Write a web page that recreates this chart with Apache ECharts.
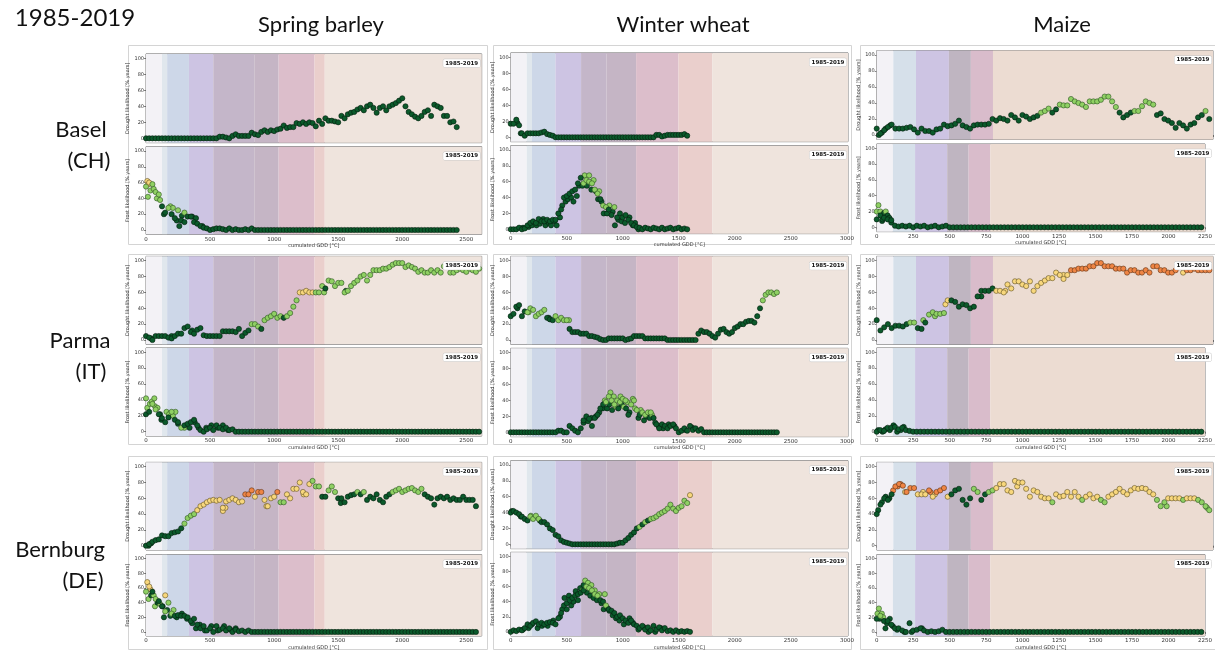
<!DOCTYPE html>
<html><head><meta charset="utf-8">
<script src="https://cdn.jsdelivr.net/npm/echarts@6/dist/echarts.min.js"></script>
<style>html,body{margin:0;padding:0;background:#fff}#c{width:1215px;height:651px}</style>
</head><body><div id="c"></div>
<script>
// ---------------- data ----------------
const STEP = 25; // GDD step between successive values in each series
const periodLabel = '1985-2019';
const cropNames = ['Spring barley', 'Winter wheat', 'Maize'];
const siteNames = ['Basel', 'Parma', 'Bernburg'];
const siteCodes = ['(CH)', '(IT)', '(DE)'];
const droughtName = 'Drought likelihood [% years]';
const frostName = 'Frost likelihood [% years]';
const xName = 'cumulated GDD [°C]';
const yTickValues = [0, 20, 40, 60, 80, 100];
const barleyXTicks = [0, 500, 1000, 1500, 2000, 2500];
const wheatXTicks = [0, 500, 1000, 1500, 2000, 2500, 3000];
const maizeXTicks = [0, 250, 500, 750, 1000, 1250, 1500, 1750, 2000, 2250];
const barleyStages = [0, 125, 165, 335, 525, 845, 1035, 1315, 1395, 2620];
const wheatStages = [0, 143, 190, 399, 628, 854, 1119, 1497, 1800, 3010];
const maizeStages = [0, 111, 263, 483, 630, 778, 2250];

// Basel
const baselBarleyDrought = [0,0,0,0,0,0,0,0,0,0, 0,0,0,0,0,0,0,0,0,0, 0,0,0,2,2,1,0,3,5,3, 3,3,3,7,5,4,8,10,8,10,
  9,11,12,16,13,14,14,19,18,20, 18,20,19,15,22,18,25,22,22,21, 20,28,25,30,32,33,36,38,35,40, 42,38,32,38,40,35,40,42,44,47,
  50,40,33,30,27,25,28,33,35,28, 42,40,38,28,28,20,21,14];
const baselBarleyDroughtCol = '';
const baselBarleyDroughtExtra = [];
const baselBarleyFrost = [55,60,58,48,45,30,22,28,20,15, 25,12,10,17,17,10,8,5,3,2, 0,1,2,2,1,0,2,0,1,0, 0,1,0,2,0,0,0,0,0,0,
  0,0,0,0,0,0,0,0,0,0, 0,0,0,0,0,0,0,0,0,0, 0,0,0,0,0,0,0,0,0,0, 0,0,0,0,0,0,0,0,0,0, 0,0,0,0,0,0,0,0,0,0, 0,0,0,0,0,0,0,0];
const baselBarleyFrostCol = 'lylllddldd lddddddddd';
const baselBarleyFrostExtra = [[10,62,'y'],[20,58,'y'],[15,42,'l'],[35,50,'l'],[60,52,'l'],[85,40,'l'],[110,38,'l'],[140,20,'d'],[190,30,'l'],[210,28,'l'],[240,12,'d'],[260,5,'d'],[280,18,'d'],[300,22,'l'],[360,17,'d'],[390,15,'d'],[440,5,'d']];

const baselWheatDrought = [17,17,22,15,5,2,5,5,5,5, 5,6,7,4,3,2,0,0,0,0, 0,0,0,0,0,0,0,0,0,0, 0,0,0,0,0,0,0,0,0,0, 0,0,0,0,0,0,0,0,0,0, 0,0,3,3,1,2,3,3,3,3, 3,3,4,2];
const baselWheatDroughtCol = '';
const baselWheatDroughtExtra = [[60,18,'d'],[90,5,'d']];
const baselWheatFrost = [0,0,0,2,0,1,5,8,10,8, 13,10,10,12,10,12,12,20,25,40, 42,45,48,50,58,65,58,62,60,58, 50,45,38,30,28,25,18,28,15,20,
  15,18,12,8,5,3,2,0,2,1, 0,2,1,0,2,0,1,2,0,1, 2,0,1,0];
const baselWheatFrostCol = 'dddddddddd dddddddddd ddddddllll lldllddldd';
const baselWheatFrostExtra = [[110,2,'d'],[160,3,'d'],[190,5,'d'],[230,5,'d'],[260,7,'d'],[290,13,'d'],[310,5,'d'],[340,8,'d'],[360,5,'d'],[390,10,'d'],[410,5,'d'],[440,15,'d'],[460,30,'d'],[490,35,'d'],[510,38,'d'],[540,40,'d'],[560,35,'d'],[590,42,'d'],[610,55,'d'],[640,55,'d'],[660,68,'l'],[680,55,'d'],[700,68,'l'],[720,50,'d'],[740,62,'l'],[760,48,'d'],[780,38,'d'],[790,48,'l'],[810,35,'d'],[830,20,'d'],[860,20,'d'],[880,30,'l'],[910,22,'d'],[930,5,'d'],[960,12,'d'],[990,10,'d'],[1020,8,'d'],[1060,15,'d'],[1090,5,'d'],[1110,8,'d'],[1140,0,'d']];

const baselMaizeDrought = [8,2,6,10,13,8,8,8,9,10, 7,3,8,5,5,3,7,8,13,11, 12,14,18,12,10,8,12,13,13,13, 14,20,18,21,20,18,25,22,18,25,
  23,20,22,24,28,30,33,28,32,38, 37,37,45,42,40,38,35,42,42,42, 44,48,48,42,35,28,22,25,28,30, 30,36,42,40,38,25,27,20,18,15,
  9,15,12,8,13,15,22,25,30,20];
const baselMaizeDroughtCol = 'dddddddddd dddddddddd dddddddddd dddddddddd ddddlllddl llllllllll lllllddddl lllllddddd ddddddddld';
const baselMaizeDroughtExtra = [[15,0,'d'],[35,3,'d'],[60,8,'d'],[90,12,'d']];
const baselMaizeFrost = [10,15,12,10,9,2,1,2,1,2, 0,2,1,2,0,1,2,0,1,2, 0,0,0,0,0,0,0,0,0,0, 0,0,0,0,0,0,0,0,0,0,
  0,0,0,0,0,0,0,0,0,0, 0,0,0,0,0,0,0,0,0,0, 0,0,0,0,0,0,0,0,0,0, 0,0,0,0,0,0,0,0,0,0, 0,0,0,0,0,0,0,0,0,0];
const baselMaizeFrostCol = '';
const baselMaizeFrostExtra = [[0,20,'l'],[12,28,'l'],[25,20,'l'],[37,8,'d'],[50,18,'d'],[62,20,'l'],[75,15,'d'],[87,12,'d'],[100,6,'d'],[40,10,'d']];

// Parma
const parmaBarleyDrought = [5,3,0,5,5,5,5,3,2,5, 8,8,15,17,10,8,13,15,6,5, 5,5,5,5,11,11,11,11,10,14, 5,9,12,20,20,17,14,25,28,30,
  33,28,30,28,30,34,42,50,60,60, 62,60,60,60,60,68,65,75,74,68, 72,72,60,62,68,72,75,80,82,75, 82,88,88,88,90,90,92,95,97,97,
  97,92,94,92,90,86,88,85,85,88, 85,88,85,93,93,85,85,88,90,88, 86,90,88,86,90];
const parmaBarleyDroughtCol = 'dddddddddd dddddddddd dddddddddd dddllldlll llldllllyy yyyllldlll llllllllll llllllllll llllllllll llllllllll lllll';
const parmaBarleyDroughtExtra = [[40,2,'d'],[200,5,'d'],[360,12,'d'],[1560,62,'d'],[1390,60,'l']];
const parmaBarleyFrost = [22,25,35,28,22,17,12,18,25,15, 12,5,8,10,12,15,8,2,0,3, 5,2,8,5,3,5,2,3,0,0,
  0,0,0,0,0,0,0,0,0,0, 0,0,0,0,0,0,0,0,0,0, 0,0,0,0,0,0,0,0,0,0, 0,0,0,0,0,0,0,0,0,0, 0,0,0,0,0,0,0,0,0,0,
  0,0,0,0,0,0,0,0,0,0, 0,0,0,0,0,0,0,0,0,0, 0,0,0,0,0];
const parmaBarleyFrostCol = 'ddllddddld dldddddddd';
const parmaBarleyFrostExtra = [[0,42,'l'],[10,30,'l'],[30,35,'l'],[45,38,'l'],[65,42,'l'],[70,32,'l'],[90,30,'l'],[110,22,'d'],[120,15,'d'],[160,25,'l'],[180,22,'l'],[210,20,'l'],[230,25,'l'],[250,10,'d'],[300,5,'l'],[340,5,'d'],[380,12,'d'],[410,5,'d'],[470,5,'d'],[510,8,'d'],[560,5,'d'],[600,8,'d'],[640,2,'d']];

const parmaWheatDrought = [30,33,42,44,30,36,35,40,38,30, 33,35,38,28,26,25,30,25,28,25, 25,14,10,10,10,8,8,8,5,5, 4,3,1,0,0,2,2,2,2,2,
  2,0,1,2,5,5,5,5,2,2, 2,2,2,2,2,2,0,0,0,0, 0,0,0,0,0,0,0,8,12,10, 10,8,5,3,8,13,14,10,8,10, 15,17,20,20,23,24,24,22,30,40,
  50,57,60,60,58,60];
const parmaWheatDroughtCol = 'ddddddllll llldddllll lddddddddd dddddddddd dddddddddd dddddddddd dddddddddd dddddddddd dddddddddd llllll';
const parmaWheatDroughtExtra = [[60,40,'d'],[160,35,'l'],[340,28,'d'],[520,25,'l']];
const parmaWheatFrost = [0,0,0,0,0,0,0,0,0,0, 0,0,0,0,0,0,0,2,2,0, 0,8,5,2,0,5,15,20,17,8, 18,22,30,35,38,45,40,35,40,38,
  42,40,22,35,40,28,22,25,22,25, 25,18,10,5,10,8,5,8,10,5, 0,2,5,2,8,3,5,2,4,0, 0,0,0,0,0,0,0,0,0,0, 0,0,0,0,0,0,0,0,0,0,
  0,0,0,0,0,0];
const parmaWheatFrostCol = 'dddddddddd dddddddddd dddddddddd ddddllllll lldllldlll lddddddddd';
const parmaWheatFrostExtra = [[650,12,'d'],[690,14,'d'],[720,18,'d'],[760,20,'d'],[790,25,'d'],[820,30,'d'],[840,40,'l'],[860,30,'d'],[880,35,'d'],[890,50,'l'],[905,28,'d'],[920,45,'l'],[940,32,'l'],[960,30,'d'],[980,45,'l'],[990,35,'d'],[1010,32,'l'],[1030,30,'d'],[1040,38,'l'],[1060,25,'d'],[1090,42,'l'],[1110,30,'l'],[1140,18,'d'],[1160,28,'l'],[1190,15,'d'],[1210,20,'d'],[1240,18,'d'],[1260,22,'l'],[1290,12,'d'],[1320,8,'d'],[1360,5,'d'],[1410,10,'d'],[1460,8,'d'],[1560,3,'d'],[1620,6,'d']];

const parmaMaizeDrought = [25,12,16,20,15,18,18,17,20,22, 22,15,14,22,32,35,33,33,34,50, 50,48,42,45,44,40,42,55,62,62, 62,65,62,62,60,70,65,74,74,70,
  68,74,62,68,72,75,78,78,85,82, 77,82,88,88,90,90,90,93,93,97, 97,93,93,93,90,90,90,85,88,88, 85,85,88,85,93,93,88,88,85,85,
  88,92,85,88,88,90,88,88,88,88];
const parmaMaizeDroughtCol = 'dddddddddl ldddllllly dddddddddd ddyyyyyyyy yyyyyyyyyy yyoooooooo oooooooooo oooooooooo ooyooooooo';
const parmaMaizeDroughtExtra = [[312,25,'l'],[390,30,'l'],[460,45,'y'],[700,55,'d'],[860,62,'y'],[1250,82,'y']];
const parmaMaizeFrost = [0,2,1,5,5,6,3,5,2,1, 0,0,0,0,0,0,0,0,0,0, 0,0,0,0,0,0,0,0,0,0, 0,0,0,0,0,0,0,0,0,0,
  0,0,0,0,0,0,0,0,0,0, 0,0,0,0,0,0,0,0,0,0, 0,0,0,0,0,0,0,0,0,0, 0,0,0,0,0,0,0,0,0,0, 0,0,0,0,0,0,0,0,0,0];
const parmaMaizeFrostCol = '';
const parmaMaizeFrostExtra = [[10,2,'d'],[40,0,'d'],[60,3,'d'],[90,2,'d'],[115,8,'d'],[140,0,'d'],[165,2,'d'],[185,6,'d']];

// Bernburg
const bernburgBarleyDrought = [0,2,5,7,8,13,12,12,16,17, 18,22,28,35,38,40,45,50,52,55, 57,58,57,58,48,56,58,60,58,55, 56,65,65,70,62,68,68,58,50,60,
  62,68,55,55,65,60,72,72,80,68, 65,78,82,75,75,62,62,70,75,68, 60,60,55,62,64,65,68,65,68,58, 62,60,65,58,55,62,65,68,70,72,
  68,70,72,73,70,68,72,65,62,60, 52,60,62,60,62,58,60,58,58,62, 58,58,58,50];
const bernburgBarleyDroughtCol = 'dddddddddd ddllllyyyy yyyyyyyyyy yoooyooyyy yollyyyyyy yylllddlll ddddddldld dddddddlll lllllllddd';
const bernburgBarleyDroughtExtra = [[600,44,'y'],[620,48,'y'],[940,50,'y'],[1230,65,'y'],[1520,54,'d'],[20,0,'d'],[40,3,'d']];
const bernburgBarleyFrost = [55,62,55,45,42,35,28,40,25,22, 23,22,22,20,15,18,10,5,8,2, 5,0,8,3,5,2,5,0,3,1, 2,0,2,0,0,0,0,0,0,0,
  0,0,0,0,0,0,0,0,0,0, 0,0,0,0,0,0,0,0,0,0, 0,0,0,0,0,0,0,0,0,0, 0,0,0,0,0,0,0,0,0,0, 0,0,0,0,0,0,0,0,0,0,
  0,0,0,0,0,0,0,0,0,0, 0,0,0,0];
const bernburgBarleyFrostCol = 'lydlddllld';
const bernburgBarleyFrostExtra = [[10,68,'y'],[20,45,'l'],[35,58,'y'],[40,50,'d'],[60,50,'l'],[70,35,'l'],[90,40,'d'],[110,38,'l'],[130,35,'d'],[140,20,'d'],[150,50,'y'],[165,30,'d'],[190,22,'d'],[215,30,'l'],[240,20,'d'],[280,25,'d'],[320,18,'d'],[360,12,'d'],[390,5,'d'],[420,10,'d'],[460,2,'d'],[510,8,'d'],[560,2,'d'],[610,8,'d'],[660,3,'d'],[700,5,'d']];

const bernburgWheatDrought = [40,42,40,38,35,32,30,35,32,36, 32,28,28,25,20,18,12,10,5,3, 2,1,0,0,0,0,0,0,0,0, 0,0,0,0,0,0,0,0,1,2,
  2,5,8,12,15,20,22,25,28,30, 32,33,35,38,40,42,45,50,45,42, 46,48,55,52,62];
const bernburgWheatDroughtCol = 'dddddddlll lddddddddd dddddddddd dddddddddd ddddddldld llllllllll lllly';
const bernburgWheatDroughtExtra = [[10,42,'d'],[90,35,'d'],[180,36,'l'],[260,30,'d']];
const bernburgWheatFrost = [0,2,1,3,2,5,10,8,12,14, 10,12,10,12,13,12,10,18,25,35, 38,42,45,48,50,52,55,60,58,55, 50,48,42,40,35,30,28,25,20,22,
  18,15,12,15,10,8,5,8,3,6, 2,8,3,6,2,5,1,2,0,2, 0,1,0,1,0];
const bernburgWheatFrostCol = 'dddddddddd dddddddddd dddddddlll llddlddddd';
const bernburgWheatFrostExtra = [[110,3,'d'],[160,5,'d'],[190,10,'d'],[240,5,'d'],[280,8,'d'],[330,8,'d'],[380,15,'d'],[440,20,'d'],[460,30,'d'],[480,45,'d'],[500,30,'d'],[520,48,'d'],[540,35,'d'],[560,40,'d'],[580,54,'d'],[600,42,'d'],[620,58,'d'],[640,55,'l'],[650,62,'d'],[665,68,'l'],[680,52,'d'],[690,65,'l'],[710,48,'d'],[720,62,'l'],[740,45,'d'],[750,55,'l'],[770,42,'d'],[790,50,'l'],[810,38,'d'],[830,30,'d'],[840,50,'l'],[860,32,'d'],[880,28,'d'],[910,22,'d'],[940,18,'d'],[970,15,'d'],[1010,10,'d'],[1060,18,'d'],[1090,12,'d'],[1140,3,'d'],[1190,6,'d'],[1230,0,'d'],[1290,0,'d'],[1340,5,'d']];

const bernburgMaizeDrought = [40,52,60,58,65,75,78,76,68,73, 73,65,65,65,70,62,68,70,73,62, 65,70,72,58,52,60,72,68,58,65, 68,70,73,78,78,70,68,82,80,80,
  72,62,70,68,62,60,60,55,65,62, 63,68,62,68,62,58,62,65,60,62, 58,55,62,65,68,72,68,65,70,73, 72,73,72,68,65,58,50,55,60,60,
  60,60,58,60,60,60,58,55,50,45];
const bernburgMaizeDroughtCol = 'dddddooooo oyyyoyoooy ddddddlldd llyyyyyyyy yyyyyyylyy yyyyylyyyy llyyyyyyyy yyyyylllyy yylyyyllll';
const bernburgMaizeDroughtExtra = [[10,45,'d'],[35,55,'d'],[60,62,'d'],[85,60,'d'],[110,70,'o'],[140,75,'o'],[160,78,'o'],[190,68,'y'],[310,68,'y'],[360,68,'o'],[390,65,'y'],[940,75,'y'],[1940,50,'l'],[2210,48,'l']];
const bernburgMaizeFrost = [18,22,15,15,10,5,5,2,0,12, 2,3,5,2,0,1,0,1,3,0, 0,0,0,0,0,0,0,0,0,0, 0,0,0,0,0,0,0,0,0,0,
  0,0,0,0,0,0,0,0,0,0, 0,0,0,0,0,0,0,0,0,0, 0,0,0,0,0,0,0,0,0,0, 0,0,0,0,0,0,0,0,0,0, 0,0,0,0,0,0,0,0,0,0];
const bernburgMaizeFrostCol = 'dldddddddd';
const bernburgMaizeFrostExtra = [[5,25,'l'],[15,32,'l'],[20,18,'d'],[35,25,'l'],[45,20,'l'],[60,5,'d'],[70,12,'d'],[90,18,'d'],[110,8,'d'],[140,3,'d'],[190,0,'d'],[240,0,'d'],[310,5,'d']];

// ---------------- layout / style ----------------
const stageColors9 = ['#f3f2f6','#e0e7ed','#cdd7e8','#cdc4e3','#c4b6c9','#c5b5c5','#dcbecb','#eacfcc','#efe4dd'];
const stageColors6 = ['#f3f2f6','#d6e0ea','#cdc4e3','#bfb5c1','#d9bccb','#ecdcd2'];
const PAL = { d: ['#0b5a2b', '#051c0d'], l: ['#8fd063', '#2c5222'], y: ['#f8d77c', '#5f5024'], o: ['#ef8544', '#5e3316'] };
const colLeft = [146, 510.7, 876.7];
const colRight = [481.7, 848, 1213];
const colXMax = [2620, 3010, 2250];
const colTicks = [barleyXTicks, wheatXTicks, maizeXTicks];
const colStages = [barleyStages, wheatStages, maizeStages];
const colStageColors = [stageColors9, stageColors9, stageColors6];
// [drought y100, drought y0, frost y100, frost y0] pixel rows
const rowY = [
  [[58.3,138.3,151,230],[57.3,137.3,150,229.3],[55,135,148.3,227.3]],
  [[260.7,340,352.3,431.7],[260.7,340,352.7,432.3],[260.7,340,352.3,431.7]],
  [[466.7,545.7,559,638.3],[465,544.3,556.7,636.7],[466.7,545.7,559,638.3]]
];
const frames = [[128,45,359,199],[493,45,358,199],[860,45,355,199],[128,254,359,190],[493,254,358,190],[860,254,355,190],[128,456,359,193],[493,456,358,193],[860,456,355,193]];

const panelData = [
  [[baselBarleyDrought, baselBarleyDroughtCol, baselBarleyDroughtExtra, baselBarleyFrost, baselBarleyFrostCol, baselBarleyFrostExtra],
   [baselWheatDrought, baselWheatDroughtCol, baselWheatDroughtExtra, baselWheatFrost, baselWheatFrostCol, baselWheatFrostExtra],
   [baselMaizeDrought, baselMaizeDroughtCol, baselMaizeDroughtExtra, baselMaizeFrost, baselMaizeFrostCol, baselMaizeFrostExtra]],
  [[parmaBarleyDrought, parmaBarleyDroughtCol, parmaBarleyDroughtExtra, parmaBarleyFrost, parmaBarleyFrostCol, parmaBarleyFrostExtra],
   [parmaWheatDrought, parmaWheatDroughtCol, parmaWheatDroughtExtra, parmaWheatFrost, parmaWheatFrostCol, parmaWheatFrostExtra],
   [parmaMaizeDrought, parmaMaizeDroughtCol, parmaMaizeDroughtExtra, parmaMaizeFrost, parmaMaizeFrostCol, parmaMaizeFrostExtra]],
  [[bernburgBarleyDrought, bernburgBarleyDroughtCol, bernburgBarleyDroughtExtra, bernburgBarleyFrost, bernburgBarleyFrostCol, bernburgBarleyFrostExtra],
   [bernburgWheatDrought, bernburgWheatDroughtCol, bernburgWheatDroughtExtra, bernburgWheatFrost, bernburgWheatFrostCol, bernburgWheatFrostExtra],
   [bernburgMaizeDrought, bernburgMaizeDroughtCol, bernburgMaizeDroughtExtra, bernburgMaizeFrost, bernburgMaizeFrostCol, bernburgMaizeFrostExtra]]
];

function mk(x, y, k) {
  const p = PAL[k] || PAL.d;
  return { value: [x, y], itemStyle: { color: p[0], borderColor: p[1] } };
}
function buildPoints(vals, cols, extra) {
  const c = (cols || '').replace(/\s/g, '');
  const out = [];
  extra.forEach(e => out.push(mk(e[0], e[1], e[2])));
  vals.forEach((v, i) => out.push(mk(i * STEP, v, c[i] || 'd')));
  return out;
}
const plainNum = v => String(v);

const grids = [], xAxes = [], yAxes = [], series = [], graphics = [];
const YMIN = -5.5, YMAX = 105.5;
const labelFont = 'DejaVu Sans';

frames.forEach(f => graphics.push({ type: 'rect', shape: { x: f[0] + 0.5, y: f[1] + 0.5, width: f[2], height: f[3] }, style: { fill: 'none', stroke: '#d4d4d4', lineWidth: 1 }, z: -10 }));

for (let r = 0; r < 3; r++) {
  for (let c = 0; c < 3; c++) {
    for (let k = 0; k < 2; k++) {
      const idx = grids.length;
      const y100 = rowY[r][c][k * 2], y0 = rowY[r][c][k * 2 + 1];
      const ppu = (y0 - y100) / 100;
      const top = y100 - (YMAX - 100) * ppu;
      const height = (YMAX - YMIN) * ppu;
      grids.push({ left: colLeft[c], top: top, width: colRight[c] - colLeft[c], height: height, show: true, borderColor: '#5a5a5a', borderWidth: 0.8, backgroundColor: 'transparent' });
      xAxes.push({
        gridIndex: idx, type: 'value', min: 0, max: colXMax[c],
        axisLine: { show: false }, splitLine: { show: false },
        axisTick: { show: true, customValues: colTicks[c], length: 2, lineStyle: { color: '#333', width: 0.6 } },
        axisLabel: { show: k === 1, customValues: colTicks[c], formatter: plainNum, fontSize: 5.5, color: '#333', margin: 2, fontFamily: labelFont },
        name: k === 1 ? xName : '', nameLocation: 'middle', nameGap: 9,
        nameTextStyle: { fontSize: 5, color: '#333', fontFamily: labelFont }
      });
      yAxes.push({
        gridIndex: idx, type: 'value', min: YMIN, max: YMAX,
        axisLine: { show: false }, splitLine: { show: false },
        axisTick: { show: true, customValues: yTickValues, length: 2, lineStyle: { color: '#333', width: 0.6 } },
        axisLabel: { customValues: yTickValues, formatter: plainNum, fontSize: 5, color: '#333', margin: 2, fontFamily: labelFont },
        name: k === 0 ? droughtName : frostName, nameLocation: 'middle', nameGap: 13, nameRotate: 90,
        nameTextStyle: { fontSize: 5, color: '#333', fontFamily: labelFont }
      });
      const st = colStages[c], sc = colStageColors[c];
      const areas = [];
      for (let i = 0; i < st.length - 1; i++) {
        areas.push([{ xAxis: st[i], itemStyle: { color: sc[i] } }, { xAxis: st[i + 1] }]);
      }
      series.push({ type: 'line', xAxisIndex: idx, yAxisIndex: idx, data: [], silent: true, z: 1,
        markArea: { silent: true, data: areas, itemStyle: { borderWidth: 0 } } });
      const pd = panelData[r][c];
      series.push({ type: 'scatter', xAxisIndex: idx, yAxisIndex: idx, silent: true, z: 3,
        symbolSize: 5.2, itemStyle: { borderWidth: 0.6, opacity: 1 },
        data: buildPoints(pd[k * 3], pd[k * 3 + 1], pd[k * 3 + 2]) });
      graphics.push({ type: 'text', x: colRight[c] - 20, y: top + 9.3, z: 20,
        style: { text: periodLabel, fontSize: 5.5, fontWeight: 'bold', fontFamily: labelFont, fill: '#111',
          align: 'center', verticalAlign: 'middle', backgroundColor: '#fff', borderColor: '#c8c8c8', borderWidth: 0.5, borderRadius: 1.5, padding: [1, 2] } });
    }
  }
}

// headings
graphics.push({ type: 'text', x: 75, y: 18, style: { text: periodLabel, fontSize: 24, fontFamily: 'Lato', fill: '#111', align: 'center', verticalAlign: 'middle' } });
const colTitleX = [321, 683, 1062];
cropNames.forEach((n, i) => graphics.push({ type: 'text', x: colTitleX[i], y: 25, style: { text: n, fontSize: 22, fontFamily: 'Lato', fill: '#111', align: 'center', verticalAlign: 'middle' } }));
const siteXY = [[81, 130, 89, 161], [80, 341, 91, 372], [60, 550, 83, 581]];
siteNames.forEach((n, i) => {
  const p = siteXY[i];
  graphics.push({ type: 'text', x: p[0], y: p[1], style: { text: n, fontSize: 22, fontFamily: 'Lato', fill: '#111', align: 'center', verticalAlign: 'middle' } });
  graphics.push({ type: 'text', x: p[2], y: p[3], style: { text: siteCodes[i], fontSize: 22, fontFamily: 'Lato', fill: '#111', align: 'center', verticalAlign: 'middle' } });
});

const chart = echarts.init(document.getElementById('c'), null, { renderer: 'canvas' });
chart.setOption({
  backgroundColor: '#fff', animation: false,
  grid: grids, xAxis: xAxes, yAxis: yAxes, series: series, graphic: graphics
});
</script></body></html>
